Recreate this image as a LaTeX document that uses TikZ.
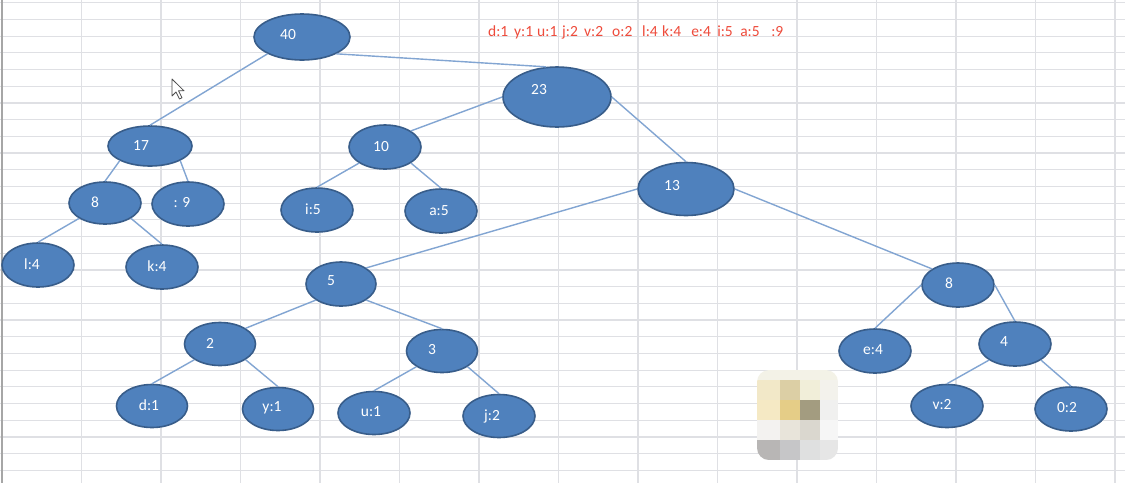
\documentclass[tikz,border=0pt]{standalone}
\usepackage{fontspec}
\setmainfont{Carlito}
\usetikzlibrary{shapes.geometric}

\definecolor{shfill}{HTML}{4F81BD}
\definecolor{shline}{HTML}{385D8A}
\definecolor{cnline}{HTML}{82A5D2}
\definecolor{gridc}{HTML}{DFE0E4}
\definecolor{redtx}{HTML}{EE4B3B}

% text inside a shape sits left of (and above) its centre
\newcommand\shtxt[3]{\raisebox{#2pt}{#3}\hspace*{#1pt}}
\newcommand\tok[2]{\makebox[#1pt][l]{#2}}

\begin{document}
\begin{tikzpicture}[x=1pt,y=-1pt,
  tn/.style={ellipse,fill=shfill,draw=shline,line width=1.6pt,text=white,
    minimum width=72pt,minimum height=44pt,inner sep=0pt,
    font=\fontsize{15.5}{18}\selectfont},
  cn/.style={cnline,line width=1.4pt},
  gl/.style={gridc,line width=1.2pt},
]

% ============================================================
% sheet background
% ============================================================
\fill[white] (0,0) rectangle (1125,483);
\useasboundingbox (0,0) rectangle (1125,483);
\foreach \i in {0,...,14}
  \draw[gl] ({2+79.5*\i},0) -- ({2+79.5*\i},483);
\foreach \j in {0,...,28}
  \draw[gl] (0,{2.7+16.7*\j}) -- (1125,{2.7+16.7*\j});
\draw[black!35,line width=1.4pt] (2,0) -- (2,483);

% ============================================================
% frequency table
% ============================================================
\node[anchor=west,text=redtx,inner sep=0pt,font=\fontsize{15.5}{18}\selectfont]
  (tbl) at (488,32)
  {\tok{26}{d:1}\tok{23}{y:1}\tok{25}{u:1}\tok{22}{j:2}\tok{28}{v:2}\tok{30}{o:2}%
   \tok{20}{l:4}\tok{29}{k:4}\tok{26}{e:4}\tok{23}{i:5}\tok{31}{a:5}:9};

% ============================================================
% tree nodes
% ============================================================
\node[tn,minimum width=96pt,minimum height=46pt] (n40) at (302,37) {\shtxt{28}{6}{40}};
\node[tn,minimum width=108pt,minimum height=60pt] (n23) at (557,97) {\shtxt{36}{16}{23}};
\node[tn,minimum width=84pt,minimum height=40pt] (n17) at (150,146) {\shtxt{18}{0}{17}};
\node[tn] (n10) at (385,147) {\shtxt{8}{0}{10}};
\node[tn,minimum width=96pt,minimum height=53pt] (n13) at (686,189) {\shtxt{28}{8}{13}};

\node[tn,minimum height=42pt] (n8a) at (105,203) {\shtxt{20}{2}{8}};
\node[tn] (n9) at (188,204) {\shtxt{12}{4}{: 9}};
\node[tn] (nl4) at (38,265) {\shtxt{12}{2}{l:4}};
\node[tn] (nk4) at (162,267) {\shtxt{10}{2}{k:4}};
\node[tn] (ni5) at (317,210) {\shtxt{8}{2}{i:5}};
\node[tn] (na5) at (441,211) {\shtxt{4}{0}{a:5}};

\node[tn,minimum width=70pt] (n5) at (341,284) {\shtxt{20}{6}{5}};
\node[tn,minimum width=71pt,minimum height=43pt] (n2) at (220,344) {\shtxt{20}{2}{2}};
\node[tn,minimum width=71pt,minimum height=43pt] (n3) at (442,351) {\shtxt{20}{4}{3}};
\node[tn,minimum width=71pt,minimum height=43pt] (nd1) at (152,406) {\shtxt{6}{2}{d:1}};
\node[tn,minimum width=71pt,minimum height=43pt] (ny1) at (278,409) {\shtxt{12}{4}{y:1}};
\node[tn,minimum height=43pt] (nu1) at (374,413) {\shtxt{6}{2}{u:1}};
\node[tn,minimum height=43pt] (nj2) at (499,416) {\shtxt{14}{2}{j:2}};

\node[tn] (n8b) at (958,285) {\shtxt{18}{4}{8}};
\node[tn] (ne4) at (875,351) {\shtxt{4}{2}{e:4}};
\node[tn] (n4) at (1015,344) {\shtxt{22}{4}{4}};
\node[tn,minimum height=43pt] (nv2) at (947,406) {\shtxt{10}{4}{v:2}};
\node[tn] (n02) at (1071,409) {\shtxt{8}{4}{0:2}};

% ============================================================
% connectors
% ============================================================
\foreach \a/\b in {n40.south west/n17.north, n40.south east/n23.110,
    n23.west/n10.north east, n23.east/n13.north,
    n17.south west/n8a.north, n17.south east/n9.north,
    n8a.south west/nl4.north, n8a.south east/nk4.north,
    n10.south west/ni5.north, n10.south east/na5.north,
    n13.west/n5.north east, n13.east/n8b.north west,
    n5.south west/n2.north east, n5.south east/n3.north,
    n2.south west/nd1.north, n2.south east/ny1.north,
    n3.south west/nu1.north, n3.south east/nj2.north,
    n8b.west/ne4.north, n8b.east/n4.north,
    n4.south west/nv2.north, n4.south east/n02.north}
  \draw[cn] (\a) -- (\b);

% ============================================================
% pointer and blurred patch
% ============================================================
\draw[fill=white,draw=black!70,line width=0.8pt,line join=round]
  (172,79) -- ++(0,17) -- ++(4,-4) -- ++(3.5,7) -- ++(2.5,-1.2)
  -- ++(-3.5,-7) -- ++(5.5,0) -- cycle;

\begin{scope}
  \clip[rounded corners=12pt] (757,370) rectangle (838,460);
  \fill[fill={rgb,255:red,243;green,242;blue,231}] (757,370) rectangle (838,380);
  \fill[fill={rgb,255:red,242;green,232;blue,200}] (757,380) rectangle (780,400);
  \fill[fill={rgb,255:red,220;green,207;blue,165}] (780,380) rectangle (800,400);
  \fill[fill={rgb,255:red,241;green,238;blue,217}] (800,380) rectangle (820,400);
  \fill[fill={rgb,255:red,243;green,242;blue,236}] (820,380) rectangle (838,400);
  \fill[fill={rgb,255:red,245;green,233;blue,196}] (757,400) rectangle (780,420);
  \fill[fill={rgb,255:red,229;green,205;blue,135}] (780,400) rectangle (800,420);
  \fill[fill={rgb,255:red,163;green,156;blue,128}] (800,400) rectangle (820,420);
  \fill[fill={rgb,255:red,240;green,240;blue,239}] (820,400) rectangle (838,420);
  \fill[fill={rgb,255:red,243;green,242;blue,240}] (757,420) rectangle (780,440);
  \fill[fill={rgb,255:red,232;green,228;blue,218}] (780,420) rectangle (800,440);
  \fill[fill={rgb,255:red,218;green,215;blue,207}] (800,420) rectangle (820,440);
  \fill[fill={rgb,255:red,246;green,246;blue,246}] (820,420) rectangle (838,440);
  \fill[fill={rgb,255:red,184;green,182;blue,181}] (757,440) rectangle (780,460);
  \fill[fill={rgb,255:red,198;green,198;blue,200}] (780,440) rectangle (800,460);
  \fill[fill={rgb,255:red,223;green,224;blue,224}] (800,440) rectangle (820,460);
  \fill[fill={rgb,255:red,230;green,230;blue,230}] (820,440) rectangle (838,460);
\end{scope}

\end{tikzpicture}
\end{document}
